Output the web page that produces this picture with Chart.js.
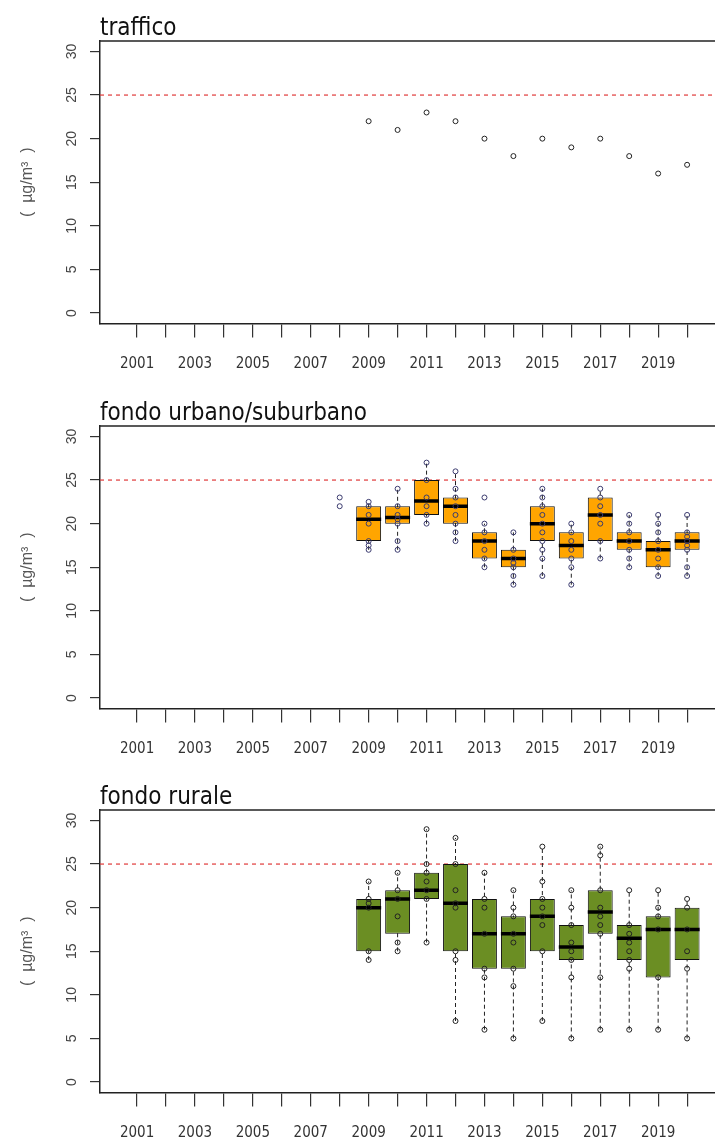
<!DOCTYPE html>
<html>
<head>
<meta charset="utf-8">
<script src="https://cdn.jsdelivr.net/npm/chart.js@4.4.1/dist/chart.umd.min.js"></script>
<style>
  html, body { margin: 0; padding: 0; background: #fff; }
  body { width: 715px; height: 1144px; overflow: hidden; }
  canvas { display: block; }
</style>
</head>
<body>
<canvas id="traffico" width="740" height="385"></canvas>
<canvas id="urbano" width="740" height="384"></canvas>
<canvas id="rurale" width="740" height="375"></canvas>
<script>
// x axis: one tick per year, labels on odd years only
const years = [2001, 2002, 2003, 2004, 2005, 2006, 2007, 2008, 2009, 2010,
               2011, 2012, 2013, 2014, 2015, 2016, 2017, 2018, 2019, 2020];
const xTickLabels = ['2001', '', '2003', '', '2005', '', '2007', '', '2009', '',
                     '2011', '', '2013', '', '2015', '', '2017', '', '2019', ''];
const yTicks = [0, 5, 10, 15, 20, 25, 30];
const limitValue = 25;

// traffico
const trafficYears = [2009, 2010, 2011, 2012, 2013, 2014, 2015, 2016, 2017, 2018, 2019, 2020];
const trafficValues = [22, 21, 23, 22, 20, 18, 20, 19, 20, 18, 16, 17];

// boxes (both background panels)
const boxYears = [2009, 2010, 2011, 2012, 2013, 2014, 2015, 2016, 2017, 2018, 2019, 2020];

// fondo urbano/suburbano
const urbanQ1     = [18, 20, 21, 20, 16, 15, 18, 16, 18, 17, 15, 17];
const urbanMedian = [20.5, 20.7, 22.6, 22, 18, 16, 20, 17.5, 21, 18, 17, 18];
const urbanQ3     = [22, 22, 25, 23, 19, 17, 22, 19, 23, 19, 18, 19];
const urbanLow    = [17, 17, 20, 18, 15, 13, 14, 13, 16, 15, 14, 14];
const urbanHigh   = [22.5, 24, 27, 26, 20, 19, 24, 20, 24, 21, 21, 21];
const urbanPointYears = [2008, 2009, 2010, 2011, 2012, 2013, 2014, 2015, 2016, 2017, 2018, 2019, 2020];
const urbanPoints = [
  [23, 22],
  [22.5, 22, 21, 20, 18, 17.5, 17],
  [24, 22, 21, 20.5, 20, 18, 17],
  [27, 25, 23, 22, 21, 20],
  [26, 24, 23, 22, 21, 20, 19, 18],
  [23, 20, 19, 18, 17, 16, 15],
  [19, 17, 16, 15.5, 15, 14, 13],
  [24, 23, 22, 21, 20, 19, 18, 17, 16, 14],
  [20, 19, 18, 17, 16, 15, 13],
  [24, 23, 22, 21, 20, 18, 16],
  [21, 20, 19, 18, 17, 16, 15],
  [21, 20, 19, 18, 17, 16, 15, 14],
  [21, 19, 18.5, 18, 17.5, 17, 15, 14]
];

// fondo rurale
const ruralQ1     = [15, 17, 21, 15, 13, 13, 15, 14, 17, 14, 12, 14];
const ruralMedian = [20, 21, 22, 20.5, 17, 17, 19, 15.5, 19.5, 16.5, 17.5, 17.5];
const ruralQ3     = [21, 22, 24, 25, 21, 19, 21, 18, 22, 18, 19, 20];
const ruralLow    = [14, 15, 16, 7, 6, 5, 7, 5, 6, 6, 6, 5];
const ruralHigh   = [23, 24, 29, 28, 24, 22, 27, 22, 27, 22, 22, 21];
const ruralPoints = [
  [23, 21, 20.5, 20, 15, 14],
  [24, 22, 21, 19, 16, 15],
  [29, 25, 24, 23, 22, 21, 16],
  [28, 25, 22, 20.5, 20, 15, 14, 7],
  [24, 21, 20, 17, 13, 12, 6],
  [22, 20, 19, 17, 16, 13, 11, 5],
  [27, 23, 21, 20, 19, 18, 15, 7],
  [22, 20, 18, 16, 15, 14, 12, 5],
  [27, 26, 22, 20, 19, 18, 17, 12, 6],
  [22, 18, 17, 16, 15, 14, 13, 6],
  [22, 20, 19, 17.5, 12, 6],
  [21, 20, 17.5, 15, 13, 5]
];

// the plot runs off the right edge of the page, so the x range is set from
// the pixel width of a year once the layout is known
const PX_PER_YEAR = 28.95;
const X_MIN = 1999.72, X_MAX = 2021.5, LIMIT_END = 2023;
const Y_MIN = -1.2, Y_MAX = 31.2;
const PLOT_LEFT = 100, PLOT_TOP = 41, AXIS_Y = 323.5;

const narrow = '"Liberation Sans Narrow", "DejaVu Sans Condensed", Arial, sans-serif';
const plain = '"Liberation Sans", Arial, sans-serif';

const toPoints = (yrs, groups) => yrs.flatMap((yr, i) => groups[i].map(v => ({ x: yr, y: v })));
const toSeries = (yrs, vals) => yrs.map((yr, i) => ({ x: yr, y: vals[i] }));

const yearScale = {
  id: 'yearScale',
  afterLayout(chart) {
    const x = chart.scales.x;
    x.max = X_MIN + (x.right - x.left) / PX_PER_YEAR;
    x.configure();
  }
};

// title, top border and rotated y labels
const frame = {
  id: 'frame',
  afterDraw(chart, args, opts) {
    const { ctx, chartArea: a, scales: { y } } = chart;
    ctx.save();
    ctx.strokeStyle = '#222';
    ctx.lineWidth = 1.5;
    ctx.beginPath();
    ctx.moveTo(a.left, a.top);
    ctx.lineTo(a.right, a.top);
    ctx.stroke();

    ctx.fillStyle = '#444';
    ctx.font = '14px ' + plain;
    ctx.textAlign = 'center';
    ctx.textBaseline = 'middle';
    yTicks.forEach(v => {
      ctx.save();
      ctx.translate(72, y.getPixelForValue(v));
      ctx.rotate(-Math.PI / 2);
      ctx.fillText(String(v), 0, 0);
      ctx.restore();
    });

    ctx.fillStyle = '#111';
    ctx.font = '24px ' + narrow;
    ctx.textAlign = 'left';
    ctx.textBaseline = 'alphabetic';
    ctx.fillText(opts.text, a.left, 35);
    ctx.restore();
  }
};

const limitDataset = () => ({
  type: 'scatter',
  data: [{ x: X_MIN, y: limitValue }, { x: LIMIT_END, y: limitValue }],
  showLine: true,
  borderColor: '#e03a3a',
  borderWidth: 1.2,
  borderDash: [4, 4],
  pointRadius: 0,
  order: 5
});

const pointDataset = (data, color) => ({
  type: 'scatter',
  data,
  pointStyle: 'circle',
  pointRadius: 2.5,
  borderWidth: 1,
  borderColor: color,
  backgroundColor: 'rgba(0,0,0,0)',
  order: 1
});

function boxDatasets(q1, med, q3, lo, hi, fill) {
  return [
    {
      type: 'scatter',
      data: boxYears.flatMap((yr, i) => [{ x: yr, y: lo[i] }, { x: yr, y: hi[i] }, { x: yr, y: null }]),
      showLine: true,
      spanGaps: false,
      borderColor: '#222',
      borderWidth: 1,
      borderDash: [4, 3],
      pointRadius: 0,
      order: 4
    },
    {
      type: 'bar',
      data: boxYears.map((yr, i) => ({ x: yr, y: [q1[i], q3[i]] })),
      backgroundColor: fill,
      borderColor: '#111',
      borderWidth: 1,
      borderSkipped: false,
      categoryPercentage: 1,
      barPercentage: 0.86,
      order: 3
    },
    {
      type: 'scatter',
      data: toSeries(boxYears, med),
      pointStyle: 'line',
      pointRadius: 12.5,
      borderWidth: 3.5,
      borderColor: '#000',
      order: 2
    }
  ];
}

function makeChart(id, title, datasets) {
  const canvas = document.getElementById(id);
  const h = canvas.height;
  return new Chart(canvas, {
    type: 'scatter',
    data: { datasets },
    options: {
      responsive: false,
      animation: false,
      events: [],
      layout: { padding: { top: PLOT_TOP, left: 0, right: 0, bottom: 0 } },
      plugins: {
        legend: { display: false },
        tooltip: { enabled: false },
        frame: { text: title }
      },
      scales: {
        x: {
          type: 'linear',
          offset: false,
          min: X_MIN,
          max: X_MAX,
          afterFit: s => { s.height = h - AXIS_Y; },
          afterBuildTicks: s => { s.ticks = years.map(v => ({ value: v })); },
          grid: { offset: false, drawOnChartArea: false, drawTicks: true, tickLength: 14, color: '#333', lineWidth: 1.2 },
          border: { display: true, color: '#222', width: 1.5 },
          ticks: {
            autoSkip: false,
            maxRotation: 0,
            minRotation: 0,
            padding: 18,
            color: '#333',
            font: { family: narrow, size: 15 },
            callback: v => xTickLabels[years.indexOf(v)] || ''
          }
        },
        y: {
          type: 'linear',
          min: Y_MIN,
          max: Y_MAX,
          afterFit: s => { s.width = PLOT_LEFT; },
          afterBuildTicks: s => { s.ticks = yTicks.map(v => ({ value: v })); },
          grid: { drawOnChartArea: false, drawTicks: true, tickLength: 10, color: '#333', lineWidth: 1.2 },
          border: { display: true, color: '#222', width: 1.5 },
          ticks: { display: false },
          title: {
            display: true,
            text: '(  µg/m³  )',
            color: '#555',
            font: { family: plain, size: 16 },
            padding: { top: 18, bottom: 0 }
          }
        }
      }
    },
    plugins: [yearScale, frame]
  });
}

makeChart('traffico', 'traffico', [
  limitDataset(),
  pointDataset(toSeries(trafficYears, trafficValues), '#222')
]);

makeChart('urbano', 'fondo urbano/suburbano', [
  limitDataset(),
  ...boxDatasets(urbanQ1, urbanMedian, urbanQ3, urbanLow, urbanHigh, '#ffa500'),
  pointDataset(toPoints(urbanPointYears, urbanPoints), '#3a3a6e')
]);

makeChart('rurale', 'fondo rurale', [
  limitDataset(),
  ...boxDatasets(ruralQ1, ruralMedian, ruralQ3, ruralLow, ruralHigh, '#6b8e23'),
  pointDataset(toPoints(boxYears, ruralPoints), '#222')
]);
</script>
</body>
</html>
